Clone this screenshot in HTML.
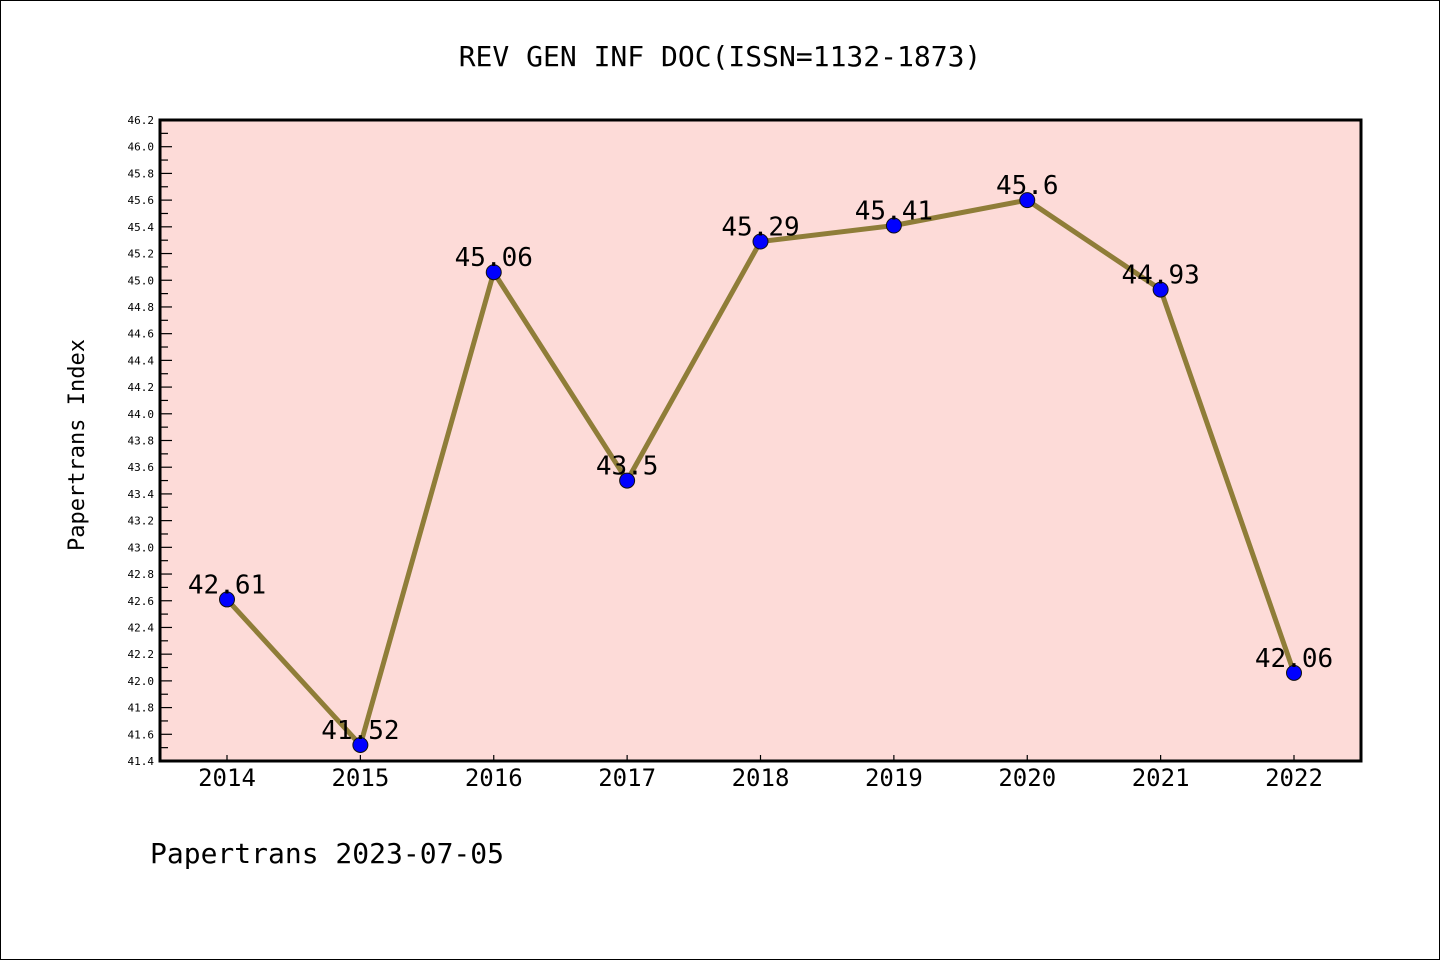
<!DOCTYPE html>
<html><head><meta charset="utf-8"><style>
html,body{margin:0;padding:0;background:#fff}
svg{display:block}
text{font-family:"DejaVu Sans Mono","Liberation Mono",monospace}
</style></head><body>
<svg id="chart" width="1440" height="960" xmlns="http://www.w3.org/2000/svg">
<rect x="0.5" y="0.5" width="1439" height="959" fill="#fff" stroke="#000" stroke-width="1"/>
<text x="720" y="66" font-size="28" text-anchor="middle">REV GEN INF DOC(ISSN=1132-1873)</text>
<rect x="160" y="120" width="1201" height="641" fill="#fddbd8"/>
<g id="yticks"></g>
<g id="xticks"></g>
<g id="series"></g>
<rect x="160" y="120" width="1201" height="641" fill="none" stroke="#000" stroke-width="3"/>
<text transform="translate(84,445) rotate(-90)" font-size="22" text-anchor="middle">Papertrans Index</text>
<text x="150" y="863" font-size="28">Papertrans 2023-07-05</text>
</svg>
<script>
const categories = ["2014","2015","2016","2017","2018","2019","2020","2021","2022"];
const values = [42.61,41.52,45.06,43.5,45.29,45.41,45.6,44.93,42.06];
const labels = ["42.61","41.52","45.06","43.5","45.29","45.41","45.6","44.93","42.06"];
const yMin = 41.4, yMax = 46.2;
const NS = "http://www.w3.org/2000/svg";
const L=160,R=1361,T=120,B=761;
const xs = i => 227 + i*(1294-227)/(categories.length-1);
const ys = v => B - (v-yMin)/(yMax-yMin)*(B-T);
function mk(tag, attrs, parent){const e=document.createElementNS(NS,tag);for(const k in attrs)e.setAttribute(k,attrs[k]);parent.appendChild(e);return e;}
const yg=document.getElementById('yticks');
for(let k=0;k<=48;k++){
  const v=yMin+k*0.1, y=ys(v), major=k%2===0;
  const t=mk('line',{x1:L,x2:L+(major?12:8),y1:y,y2:y,stroke:'#000','stroke-width':1.2},yg);
  
  
  if(major){
    const tx=mk('text',{x:L-6,y:y+4,'font-size':11,'text-anchor':'end'},yg);
    
    
    tx.textContent=v.toFixed(1);
  }
}
const xg=document.getElementById('xticks');
categories.forEach((c,i)=>{
  const x=xs(i);
  const t=mk('line',{x1:x,x2:x,y1:B,y2:B-6,stroke:'#000','stroke-width':1.2},xg);
  
  
  const tx=mk('text',{x:x,y:B+25,'font-size':24,'text-anchor':'middle'},xg);
  
  
  tx.textContent=c;
});
const sg=document.getElementById('series');
const pl=mk('polyline',{points:values.map((v,i)=>xs(i)+','+ys(v)).join(' '),fill:'none',stroke:'#8f7d38','stroke-width':5,'stroke-linejoin':'round'},sg);


values.forEach((v,i)=>{
  const c=mk('circle',{cx:xs(i),cy:ys(v),r:7.5,fill:'#0000ff',stroke:'#111','stroke-width':1},sg);
  
  
  const tx=mk('text',{x:xs(i),y:ys(v)-6,'font-size':26,'text-anchor':'middle'},sg);
  
  
  tx.textContent=labels[i];
});
</script>
</body></html>
